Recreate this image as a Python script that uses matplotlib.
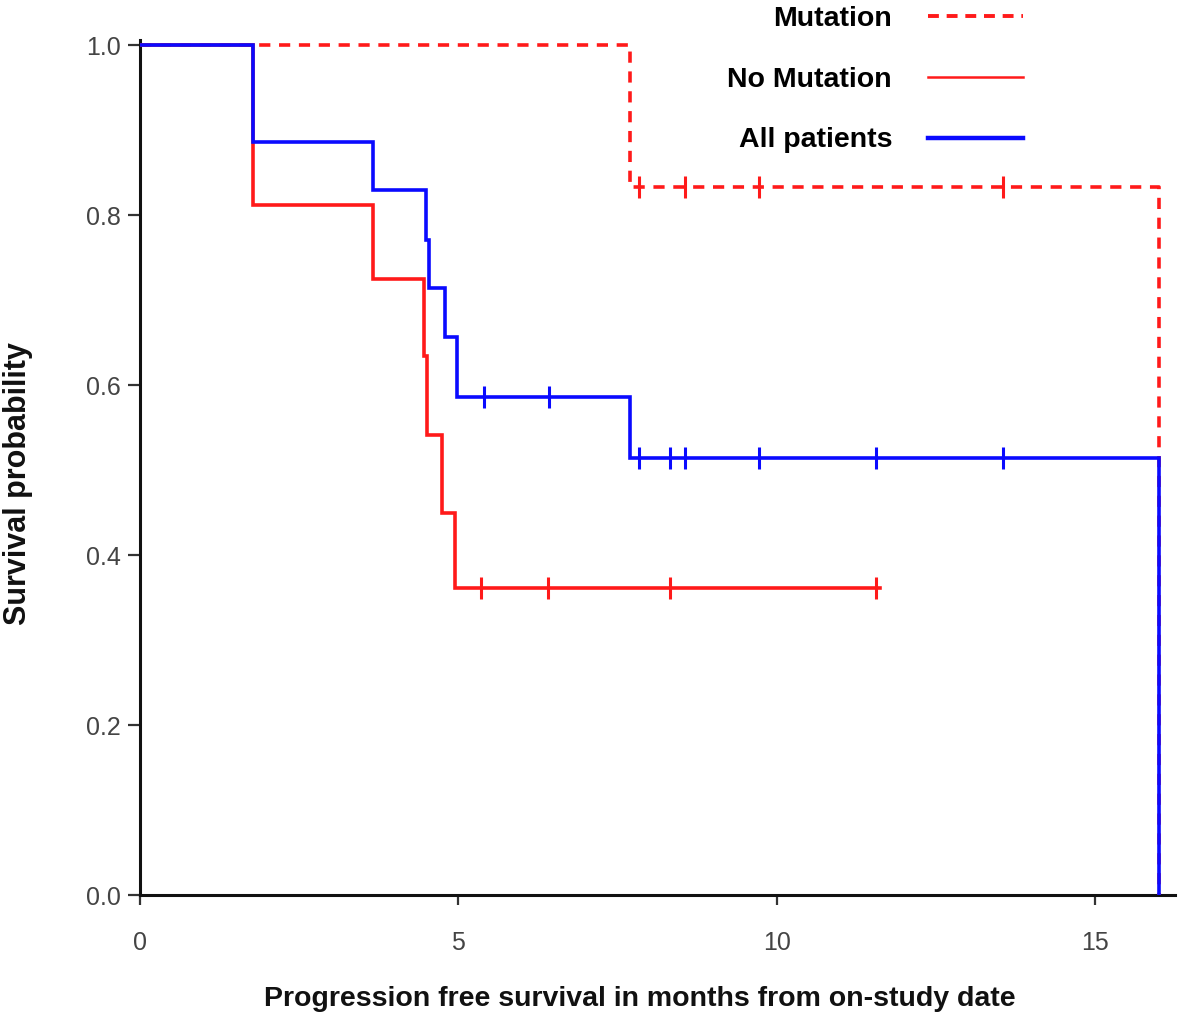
import numpy as np
import matplotlib
matplotlib.use("Agg")
import matplotlib.pyplot as plt
from matplotlib.lines import Line2D

plt.rcParams['font.family'] = ['Liberation Sans', 'DejaVu Sans']

# Kaplan-Meier step data (months, survival probability)
mut_t = [0, 7.7, 16.0]
mut_s = [1.0, 0.833, 0.0]
mut_cens = [7.83, 8.56, 9.72, 13.55]

nomut_t = [0, 1.77, 3.66, 4.46, 4.51, 4.74, 4.95, 11.62]
nomut_s = [1.0, 0.812, 0.725, 0.634, 0.541, 0.449, 0.361, 0.361]
nomut_cens = [5.36, 6.4, 8.32, 11.55]

all_t = [0, 1.77, 3.66, 4.49, 4.54, 4.79, 4.98, 7.7, 16.0]
all_s = [1.0, 0.886, 0.829, 0.771, 0.714, 0.657, 0.586, 0.514, 0.0]
all_cens = [5.4, 6.42, 7.83, 8.32, 8.56, 9.72, 11.55, 13.55]

labels = ['Mutation', 'No Mutation', 'All patients']
x_ticks = [0, 5, 10, 15]
y_ticks = [0.0, 0.2, 0.4, 0.6, 0.8, 1.0]

RED = '#ff1a1a'
BLUE = '#0a0aff'


def surv_at(times, surv, c):
    i = np.searchsorted(times, c, side='right') - 1
    return surv[i]


def draw_km(ax, times, surv, cens, color, lw, ls, z):
    ax.step(times, surv, where='post', color=color, lw=lw, ls=ls, zorder=z,
            solid_joinstyle='miter')
    cy = [surv_at(times, surv, c) for c in cens]
    ax.plot(cens, cy, ls='none', marker='|', ms=16, mew=2.2, color=color, zorder=z)


fig = plt.figure(figsize=(11.81, 10.21), dpi=100)
ax = fig.add_axes([0.1185, 0.1234, 0.8764, 0.8374])

draw_km(ax, mut_t, mut_s, mut_cens, RED, 2.6, (0, (3.1, 2.4)), 3)
draw_km(ax, nomut_t, nomut_s, nomut_cens, RED, 2.6, '-', 4)
draw_km(ax, all_t, all_s, all_cens, BLUE, 2.6, '-', 5)

ax.set_xlim(0, 16.25)
ax.set_ylim(0, 1.006)
ax.set_xticks(x_ticks)
ax.set_yticks(y_ticks)
ax.set_yticklabels([f'{v:.1f}' for v in y_ticks])

for s in ['top', 'right']:
    ax.spines[s].set_visible(False)
for s in ['left', 'bottom']:
    ax.spines[s].set_linewidth(2.2)
    ax.spines[s].set_color('#111111')

ax.tick_params(axis='y', direction='out', length=9, width=1.6, pad=5,
               labelsize=18, labelcolor='#444444', color='#333333')
ax.tick_params(axis='x', direction='out', length=7, width=1.6, pad=19,
               labelsize=18, labelcolor='#444444', color='#333333')

ax.set_xlabel('Progression free survival in months from on-study date',
              fontsize=20.5, fontweight='bold', color='#111111')
ax.set_ylabel('Survival probability', fontsize=22, fontweight='bold', color='#111111')
ax.xaxis.set_label_coords(0.483, -0.106)
ax.yaxis.set_label_coords(-0.103, 0.481)

handles = [
    Line2D([], [], color=RED, lw=2.8, ls=(0, (2.8, 2.0))),
    Line2D([], [], color=RED, lw=1.8),
    Line2D([], [], color=BLUE, lw=3.2),
]
fig.legend(handles, labels, loc='upper right', bbox_to_anchor=(1023 / 1181, 1 - 6 / 1021),
           frameon=False, markerfirst=False, prop={'size': 20.5, 'weight': 'bold'},
           handlelength=3.35, handletextpad=1.25, labelspacing=1.22,
           borderpad=0, borderaxespad=0)

fig.savefig('out.png', dpi=100)
